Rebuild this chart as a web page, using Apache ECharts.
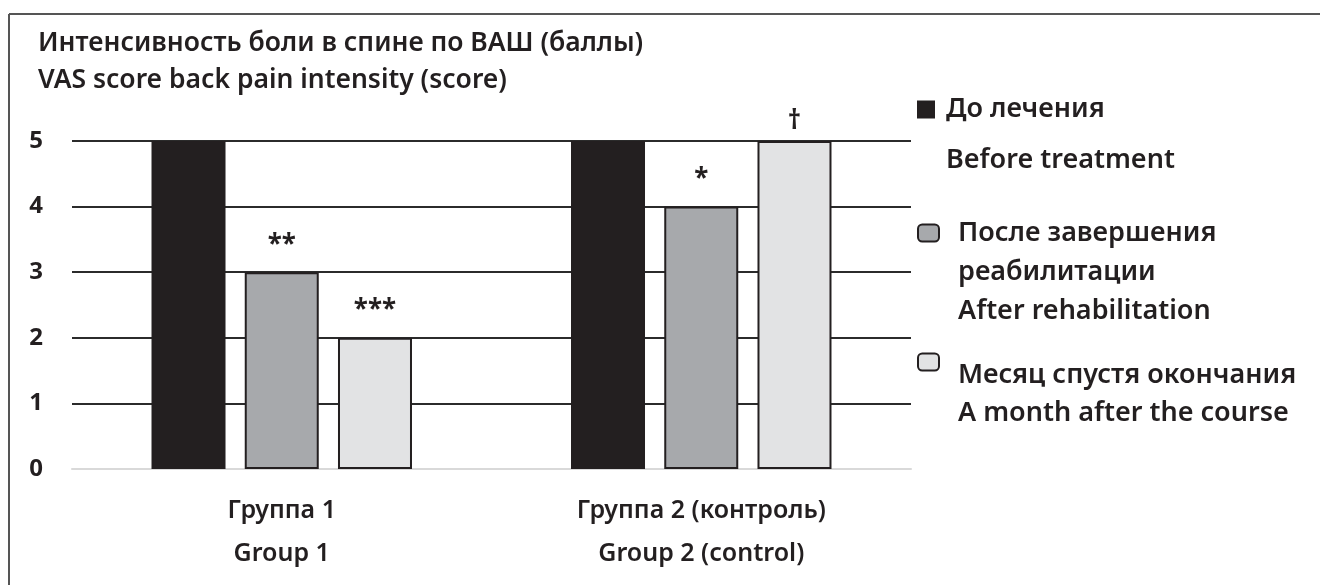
<!DOCTYPE html>
<html>
<head>
<meta charset="utf-8">
<script src="https://cdn.jsdelivr.net/npm/echarts@6/dist/echarts.min.js"></script>
<style>
  html, body { margin: 0; padding: 0; background: #fff; }
  #chart { width: 1320px; height: 585px; }
</style>
</head>
<body>
<div id="chart"></div>
<script>
const categories = ['Группа 1\nGroup 1', 'Группа 2 (контроль)\nGroup 2 (control)']
const yTicks = [0, 1, 2, 3, 4, 5]
const seriesNames = ['До лечения', 'После завершения', 'Месяц спустя окончания']
const beforeValues = [5, 5]
const afterValues = [3, 4]
const monthValues = [2, 5]
const afterMarks = ['**', '*']
const monthMarks = ['***', '†']

const FONT = '"Noto Sans", "DejaVu Sans", sans-serif'
const INK = '#231f20'

const chart = echarts.init(document.getElementById('chart'))

// общий стиль столбцов
const barSeries = (name, values, color, marks) => ({
  name,
  type: 'bar',
  data: values,
  barWidth: 74,
  barGap: '26%',
  itemStyle: { color, borderColor: INK, borderWidth: 2 },
  label: {
    show: !!marks,
    position: 'top',
    distance: 6,
    color: INK,
    fontFamily: FONT,
    fontWeight: 'bold',
    fontSize: 26,
    formatter: p => {
      const m = marks ? marks[p.dataIndex] : ''
      return m.startsWith('*') ? `{a|${m}}` : `{d|${m}}`
    },
    rich: {
      a: { fontSize: 26, fontWeight: 'bold', color: INK, padding: [0, 0, 8, 0] },
      d: { fontSize: 26, fontWeight: 'bold', color: INK }
    }
  }
})

const legendBox = (name, left, top, icon, w, h, text, pad) => ({
  data: [{ name, icon }],
  left,
  top,
  itemWidth: w,
  itemHeight: h,
  selectedMode: false,
  formatter: () => text,
  textStyle: {
    fontFamily: FONT,
    rich: {
      s: { fontSize: 10, lineHeight: 39 },
      s2: { fontSize: 10, lineHeight: 64 },
      t: { fontSize: 27, fontWeight: 600, color: INK, padding: [0, 0, 0, pad], lineHeight: 51 },
      u: { fontSize: 27, fontWeight: 600, color: INK, padding: [0, 0, 0, pad], lineHeight: 39 },
      v: { fontSize: 27, fontWeight: 600, color: INK, padding: [0, 0, 0, pad], lineHeight: 38 }
    }
  }
})

const option = {
  backgroundColor: '#fff',
  animation: false,
  title: {
    text: 'Интенсивность боли в спине по ВАШ (баллы)\nVAS score back pain intensity (score)',
    left: 33,
    top: 20,
    textStyle: {
      fontFamily: FONT,
      fontSize: 26.5,
      fontWeight: 600,
      color: INK,
      lineHeight: 37
    }
  },
  legend: [
    legendBox(seriesNames[0], 912, 40, 'rect', 16, 16,
      '{t| }\n{t|До лечения}\n{t|Before treatment}', 7),
    legendBox(seriesNames[1], 912, 145, 'roundRect', 21, 17,
      '{s| }\n{s| }\n{u|После завершения}\n{u|реабилитации}\n{u|After rehabilitation}', 14),
    legendBox(seriesNames[2], 912, 314, 'roundRect', 21, 17,
      '{s2| }\n{v|Месяц спустя окончания}\n{v|A month after the course}', 14)
  ],
  grid: { left: 72, right: 409, top: 141, bottom: 116 },
  xAxis: {
    type: 'category',
    data: categories,
    axisTick: { show: false },
    axisLine: { show: true, lineStyle: { color: '#d9d9d9', width: 2 } },
    axisLabel: {
      margin: 20,
      color: INK,
      fontFamily: FONT,
      fontWeight: 600,
      fontSize: 25,
      lineHeight: 43
    }
  },
  yAxis: {
    type: 'value',
    min: yTicks[0],
    max: yTicks[yTicks.length - 1],
    interval: 1,
    axisLine: { show: false },
    axisTick: { show: false },
    axisLabel: {
      margin: 29,
      color: INK,
      fontFamily: FONT,
      fontWeight: 'bold',
      fontSize: 24
    },
    splitLine: {
      lineStyle: { color: ['#d9d9d9', '#2b2b2b', '#2b2b2b', '#2b2b2b', '#2b2b2b', '#2b2b2b'], width: 2 }
    }
  },
  series: [
    barSeries(seriesNames[0], beforeValues, INK, null),
    barSeries(seriesNames[1], afterValues, '#a7a9ac', afterMarks),
    barSeries(seriesNames[2], monthValues, '#e2e3e4', monthMarks)
  ],
  graphic: [
    // рамка рисунка сверху и слева
    { type: 'line', shape: { x1: 9, y1: 14, x2: 1320, y2: 14 }, style: { stroke: '#555', lineWidth: 2 } },
    { type: 'line', shape: { x1: 9, y1: 14, x2: 9, y2: 585 }, style: { stroke: '#555', lineWidth: 2 } }
  ]
}

chart.setOption(option)
window.addEventListener('resize', () => chart.resize())
</script>
</body>
</html>
